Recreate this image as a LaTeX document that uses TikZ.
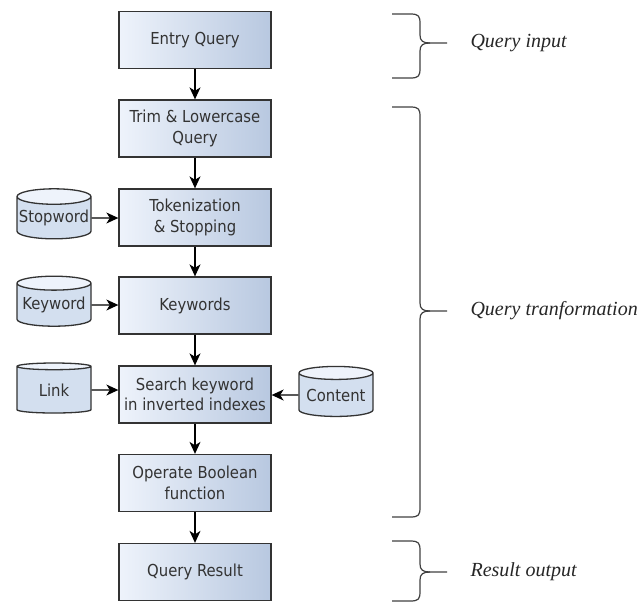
\documentclass[tikz,border=0pt]{standalone}
\usepackage{fontspec}
\setmainfont{Liberation Serif}
\newfontfamily\boxfont{DejaVu Sans Condensed}
\usetikzlibrary{shapes.geometric,arrows.meta}
\definecolor{boxlight}{HTML}{EEF3FB}
\definecolor{boxdark}{HTML}{B8C8E0}
\definecolor{cylbody}{HTML}{D3DFEF}
\definecolor{edge}{HTML}{333333}
\tikzset{
  procbox/.style={draw=edge, line width=1.3pt, left color=boxlight, right color=boxdark,
    minimum width=152pt, minimum height=57pt, inner sep=0pt, align=center,
    font=\boxfont\fontsize{16.5}{20.5}\selectfont, text=black!80},
  store/.style={cylinder, shape border rotate=90, aspect=0.22, draw=edge, line width=1.3pt,
    cylinder uses custom fill, cylinder body fill=cylbody, cylinder end fill=boxlight,
    minimum width=74pt, minimum height=50pt, inner sep=0pt,
    font=\boxfont\fontsize{16.5}{20}\selectfont, text=black!80},
  flow/.style={line width=1.3pt, black, -{Stealth[length=12pt,width=11pt,inset=3.5pt]}},
  brace/.style={draw=black!75, line width=1.2pt},
  phase/.style={anchor=west, font=\itshape\fontsize{20}{24}\selectfont, text=black!85}
}
\begin{document}
\begin{tikzpicture}[x=1pt,y=-1pt]
\useasboundingbox (0,0) rectangle (639,603);
\node[procbox] (entry) at (195,40) {Entry Query};
\node[procbox] (trim) at (195,128.5) {Trim \& Lowercase\\Query};
\node[procbox] (token) at (195,217.5) {Tokenization\\\& Stopping};
\node[procbox] (kw) at (195,305.5) {Keywords};
\node[procbox] (search) at (195,394.5) {Search keyword\\in inverted indexes};
\node[procbox] (bool) at (195,483) {Operate Boolean\\function};
\node[procbox] (result) at (195,572) {Query Result};

\node[store] (stop) at (54,218) {Stopword};
\node[store] (kws) at (54,305) {Keyword};
\node[store] (link) at (54,390) {Link};
\node[store] (content) at (336,395) {Content};

\draw[flow] (entry) -- (trim);
\draw[flow] (trim) -- (token);
\draw[flow] (token) -- (kw);
\draw[flow] (kw) -- (search);
\draw[flow] (search) -- (bool);
\draw[flow] (bool) -- (result);
\draw[flow] (stop) -- (stop -| token.west);
\draw[flow] (kws) -- (kws -| kw.west);
\draw[flow] (link) -- (link -| search.west);
\draw[flow] (content) -- (content -| search.east);

% braces
\draw[brace] (392,14) -- (410,14) .. controls (419,14) and (420,16) .. (420,24) -- (420,35)
  .. controls (420,41) and (423,43) .. (430,43) -- (447,43);
\draw[brace] (392,78) -- (410,78) .. controls (419,78) and (420,76) .. (420,68) -- (420,51)
  .. controls (420,45) and (423,43) .. (430,43);
\node[phase] (l1) at (467,43) {Query input};

\draw[brace] (392,107) -- (410,107) .. controls (419,107) and (420,109) .. (420,117) -- (420,303)
  .. controls (420,309) and (423,311) .. (430,311) -- (447,311);
\draw[brace] (392,517) -- (410,517) .. controls (419,517) and (420,515) .. (420,507) -- (420,319)
  .. controls (420,313) and (423,311) .. (430,311);
\node[phase] (l2) at (467,311) {Query tranformation};

\draw[brace] (392,541) -- (410,541) .. controls (419,541) and (420,543) .. (420,551) -- (420,564)
  .. controls (420,570) and (423,572) .. (430,572) -- (447,572);
\draw[brace] (392,601) -- (410,601) .. controls (419,601) and (420,599) .. (420,591) -- (420,580)
  .. controls (420,574) and (423,572) .. (430,572);
\node[phase] (l3) at (467,572) {Result output};
\end{tikzpicture}
\end{document}
